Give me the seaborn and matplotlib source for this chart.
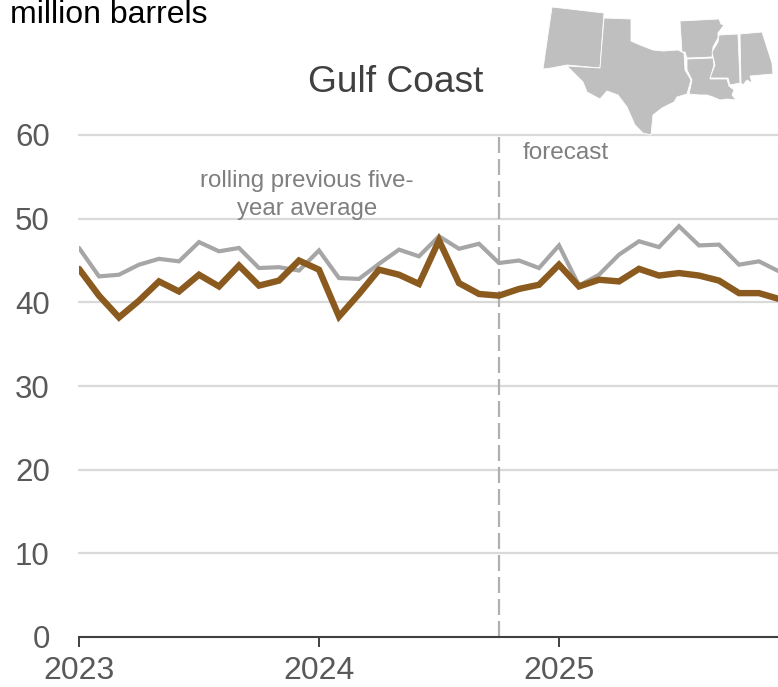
import pandas as pd
import matplotlib
matplotlib.use('Agg')
import matplotlib.pyplot as plt
from matplotlib.patches import Polygon
import seaborn as sns

# --- data ---
months = list(range(36))
average = [46.5, 43.1, 43.3, 44.5, 45.2, 44.9, 47.2, 46.1, 46.5, 44.1, 44.2, 43.8,
           46.2, 42.9, 42.8, 44.6, 46.3, 45.5, 47.9, 46.4, 47.0, 44.7, 45.0, 44.1,
           46.8, 42.0, 43.3, 45.7, 47.3, 46.6, 49.1, 46.8, 46.9, 44.5, 44.9, 43.7]
stocks = [44.0, 40.8, 38.2, 40.2, 42.5, 41.3, 43.3, 41.9, 44.4, 42.0, 42.6, 45.0,
          43.9, 38.3, 41.0, 43.9, 43.3, 42.2, 47.4, 42.3, 41.0, 40.8, 41.6, 42.1,
          44.5, 41.9, 42.7, 42.5, 44.0, 43.2, 43.5, 43.2, 42.6, 41.1, 41.1, 40.4]
year_ticks = [0, 12, 24]
year_labels = ['2023', '2024', '2025']
y_ticks = [0, 10, 20, 30, 40, 50, 60]
forecast_start = 21

# locator map outlines (pixels)
new_mexico = [(552, 7), (604, 13), (600, 68), (567, 65), (551, 68), (543, 69)]
texas = [(604, 18), (631, 19), (631, 41), (640, 45), (653, 50), (663, 51), (678, 50), (684, 53),
         (685, 70), (691, 80), (687, 94), (677, 97), (674, 102), (662, 108), (653, 115), (651, 135),
         (643, 133), (635, 125), (627, 107), (618, 95), (607, 91), (600, 99), (587, 92), (583, 82),
         (567, 66), (600, 68)]
arkansas = [(680, 21), (719, 19), (721, 24), (724, 25), (718, 33), (718, 38), (713, 47), (712, 57),
            (687, 58), (685, 52), (682, 52)]
louisiana = [(687, 59), (713, 58), (714, 65), (710, 79), (727, 79), (729, 86), (734, 90), (732, 95),
             (736, 100), (727, 99), (720, 100), (713, 97), (707, 95), (700, 95), (689, 94), (692, 80),
             (687, 70)]
mississippi = [(719, 35), (738, 34), (740, 83), (730, 85), (728, 78), (710, 78), (715, 65), (712, 52),
               (718, 42)]
alabama = [(740, 34), (762, 32), (772, 63), (773, 74), (750, 76), (752, 83), (747, 80), (743, 85),
           (741, 83)]
states = [new_mexico, texas, arkansas, louisiana, mississippi, alabama]

df = pd.DataFrame({
    'month': months * 2,
    'value': average + stocks,
    'series': ['average'] * len(months) + ['stocks'] * len(months),
})

sns.set_theme(style='white')
plt.rcParams['font.family'] = ['Liberation Sans', 'DejaVu Sans']

W, H = 778, 687
fig = plt.figure(figsize=(W / 100, H / 100), dpi=100)
ax = fig.add_axes([79 / W, (H - 637) / H, (W - 79) / W, (637 - 135) / H])

sns.lineplot(data=df, x='month', y='value', hue='series', hue_order=['average', 'stocks'],
             palette={'average': '#a6a6a6', 'stocks': '#8b5a1e'}, legend=False, ax=ax)
ax.lines[0].set_linewidth(3.0)
ax.lines[1].set_linewidth(4.6)
for line in ax.lines:
    line.set_solid_joinstyle('miter')
    line.set_zorder(3)

ax.set_xlim(0, (W - 79) / 20)
ax.set_ylim(0, 60)
ax.set_xlabel('')
ax.set_ylabel('')
ax.set_xticks(year_ticks, year_labels)
ax.set_yticks(y_ticks)
ax.tick_params(axis='x', length=7.5, width=1.4, color='#404040', labelsize=23,
               labelcolor='#595959', pad=6.5, bottom=True)
ax.tick_params(axis='y', length=0, labelsize=22.5, labelcolor='#595959', pad=21)

sns.despine(ax=ax, left=True)
ax.spines['bottom'].set_color('#404040')
ax.spines['bottom'].set_linewidth(1.5)
ax.yaxis.grid(True, color='#d9d9d9', linewidth=1.6)
ax.set_axisbelow(True)
for gl in ax.get_ygridlines():
    gl.set_clip_on(False)
ax.get_ygridlines()[0].set_visible(False)

ax.axvline(forecast_start, color='#b0b0b0', linewidth=1.6, dashes=(7.2, 2.7), zorder=2)

# texts, positioned in pixels
fig.text(10 / W, 1 - 15 / H, 'million barrels', fontsize=23, color='black', ha='left', va='center')
fig.text(396 / W, 1 - 82 / H, 'Gulf Coast', fontsize=26.7, color='#404040', ha='center', va='center')
fig.text(523 / W, 1 - 153 / H, 'forecast', fontsize=17.5, color='#7f7f7f', ha='left', va='center')
fig.text(307 / W, 1 - 195 / H, 'rolling previous five-\nyear average', fontsize=17.3, color='#7f7f7f',
         ha='center', va='center', linespacing=1.36)

# locator map
map_ax = fig.add_axes([0, 0, 1, 1], zorder=5)
map_ax.set_xlim(0, W)
map_ax.set_ylim(H, 0)
map_ax.axis('off')
for outline in states:
    map_ax.add_patch(Polygon(outline, closed=True, facecolor='#bfbfbf', edgecolor='white', linewidth=0.6))

plt.savefig('out.png', dpi=100)
